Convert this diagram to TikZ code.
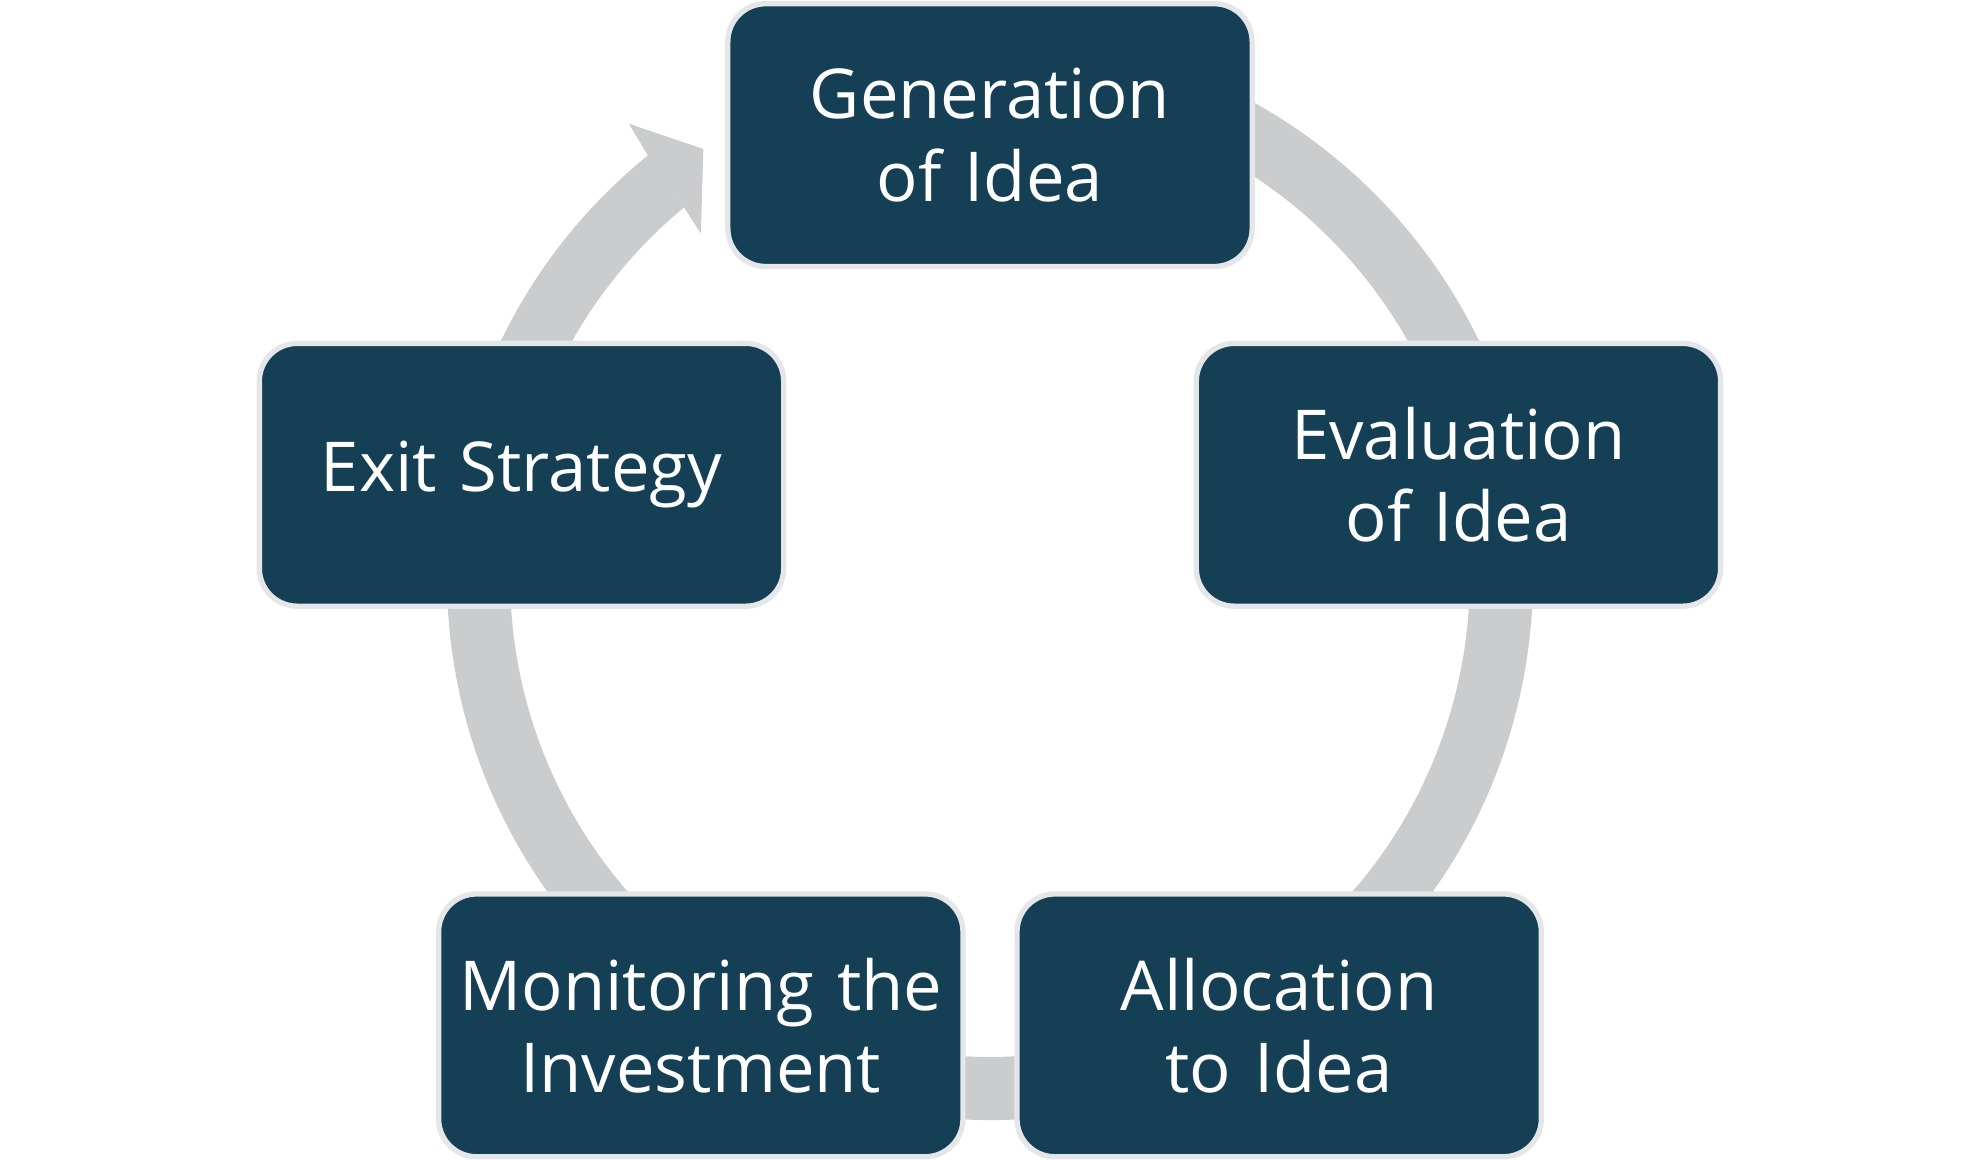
\documentclass[tikz,border=0pt]{standalone}
\usepackage{fontspec}
\setmainfont{Open Sans}
\definecolor{boxfill}{HTML}{143F55}
\definecolor{boxline}{HTML}{E4E6E8}
\definecolor{ring}{HTML}{CBCCCE}
\begin{document}
\begin{tikzpicture}[x=0.01cm,y=-0.01cm,
  stepbox/.style={draw=boxline,line width=1.2pt,fill=boxfill,rounded corners=0.3cm,
    minimum width=4.15cm,minimum height=2.08cm,text width=3.9cm,align=center,
    text=white,font=\fontsize{15.5pt}{18.5pt}\selectfont,inner sep=0pt}]
\useasboundingbox (0,0) rectangle (1568,918);
\coordinate (c) at (784,457);
\draw[ring,line width=0.5cm] (c) ++(231:405) arc[start angle=231,end angle=-100,radius=405];
\fill[ring] (513,123) -- (498,98) -- (557,118) -- (555,185) -- (541,163) -- (545,162) -- cycle;
\node[stepbox] (gen) at (784,107) {Generation of Idea};
\node[stepbox] (eval) at (1155,376) {Evaluation of Idea};
\node[stepbox] (alloc) at (1013,812) {Allocation to Idea};
\node[stepbox] (mon) at (555,812) {Monitoring the Investment};
\node[stepbox] (exit) at (413,376) {Exit Strategy};
\end{tikzpicture}
\end{document}
